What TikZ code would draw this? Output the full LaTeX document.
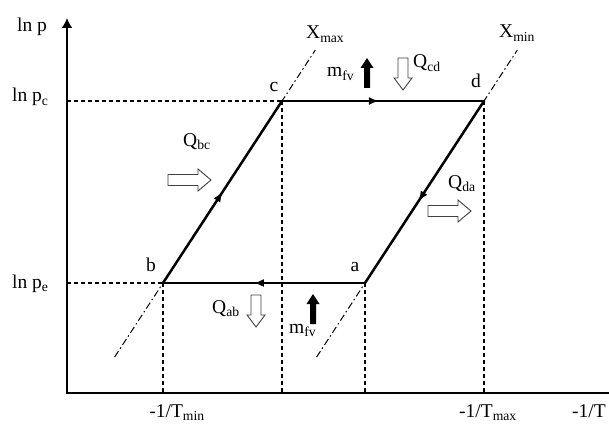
\documentclass[tikz,border=0pt]{standalone}
\usepackage{fontspec}
\setmainfont{Liberation Serif}
\usetikzlibrary{arrows.meta,decorations.markings,calc}
\tikzset{
  lbl/.style={font=\fontsize{19.5}{22}\selectfont, inner sep=0pt, anchor=base west},
  lblc/.style={lbl, anchor=base},
  axisline/.style={line width=2.4pt},
  guide/.style={line width=1.1pt, dash pattern=on 4pt off 3pt},
  xline/.style={line width=1pt, dash pattern=on 7pt off 3pt on 1.5pt off 3pt},
  cyc/.style={line width=2.5pt, line cap=round, postaction={decorate},
    decoration={markings, mark=at position #1 with {\arrow{Latex[length=10pt,width=8pt]}}}},
  hollowH/.pic={\draw[line width=0.9pt, draw=black!75, fill=white, line join=miter]
      (0,-5.5) -- (30,-5.5) -- (30,-11) -- (43,0) -- (30,11) -- (30,5.5) -- (0,5.5) -- cycle;},
  hollowV/.pic={\draw[line width=0.9pt, draw=black!75, fill=white, line join=miter]
      (0,-5) -- (20,-5) -- (20,-9) -- (32,0) -- (20,9) -- (20,5) -- (0,5) -- cycle;},
  solidV/.pic={\fill[black]
      (0,-3) -- (20,-3) -- (20,-6.5) -- (30,0) -- (20,6.5) -- (20,3) -- (0,3) -- cycle;}
}
\begin{document}
\begin{tikzpicture}[x=1pt,y=-1pt]
\useasboundingbox (0,0) rectangle (609,425);
% key points
\coordinate (O) at (67,393);
\coordinate (ytop) at (67,18);
\coordinate (xend) at (609,393);
\coordinate (a) at (365,283);
\coordinate (b) at (163,283);
\coordinate (c) at (282,101);
\coordinate (d) at (484,101);
% constant-quality lines
\draw[xline] ($(b)!-0.407!(c)$) coordinate (xmaxlo) -- ($(b)!1.28!(c)$) coordinate (xmaxhi);
\draw[xline] ($(a)!-0.407!(d)$) coordinate (xminlo) -- ($(a)!1.28!(d)$) coordinate (xminhi);
% guides
\draw[guide] (O |- c) -- (c);
\draw[guide] (O |- b) -- (b);
\draw[guide] (b) -- (b |- O);
\draw[guide] (c) -- (c |- O);
\draw[guide] (a) -- (a |- O);
\draw[guide] (d) -- (d |- O);
% axes
\draw[axisline, {Latex[length=10pt,width=11pt]}-] (ytop) -- (O) -- (xend);
% cycle
\draw[cyc=0.5] (b) -- (c);
\draw[cyc=0.48] (c) -- (d);
\draw[cyc=0.55] (d) -- (a);
\draw[cyc=0.55] (a) -- (b);
% point labels
\node[lblc] (la) at (355,271) {a};
\node[lblc] (lb) at (151,271) {b};
\node[lblc] (lc) at (274,92) {c};
\node[lblc] (ld) at (476,88) {d};
% axis labels
\node[lbl] (lnp) at (17,32) {ln p};
\node[lbl] (lnpc) at (12,102) {ln p\textsubscript{c}};
\node[lbl] (lnpe) at (12,288) {ln p\textsubscript{e}};
\node[lblc] (tmin) at (177,417) {-1/T\textsubscript{min}};
\node[lbl] (tmax) at (459,417) {-1/T\textsubscript{max}};
\node[lbl] (tinv) at (572,417) {-1/T};
\node[lbl] (xmax) at (306,39) {X\textsubscript{max}};
\node[lbl] (xmin) at (499,38) {X\textsubscript{min}};
% heat and mass flows
\node[lbl] (qbc) at (183,146) {Q\textsubscript{bc}};
\node[lbl] (qcd) at (413,68) {Q\textsubscript{cd}};
\node[lbl] (qda) at (448,188) {Q\textsubscript{da}};
\node[lbl] (qab) at (212,313) {Q\textsubscript{ab}};
\node[lbl] (mtop) at (327,77) {m\textsubscript{fv}};
\node[lbl] (mbot) at (289,333) {m\textsubscript{fv}};
\pic (abc) at (168,180) {hollowH};
\pic (ada) at (428,211) {hollowH};
\pic[rotate=-90] (acd) at (403,58) {hollowV};
\pic[rotate=-90] (aab) at (256,295) {hollowV};
\pic[rotate=90] (mt) at (367,88) {solidV};
\pic[rotate=90] (mb) at (313,324) {solidV};
\end{tikzpicture}
\end{document}
